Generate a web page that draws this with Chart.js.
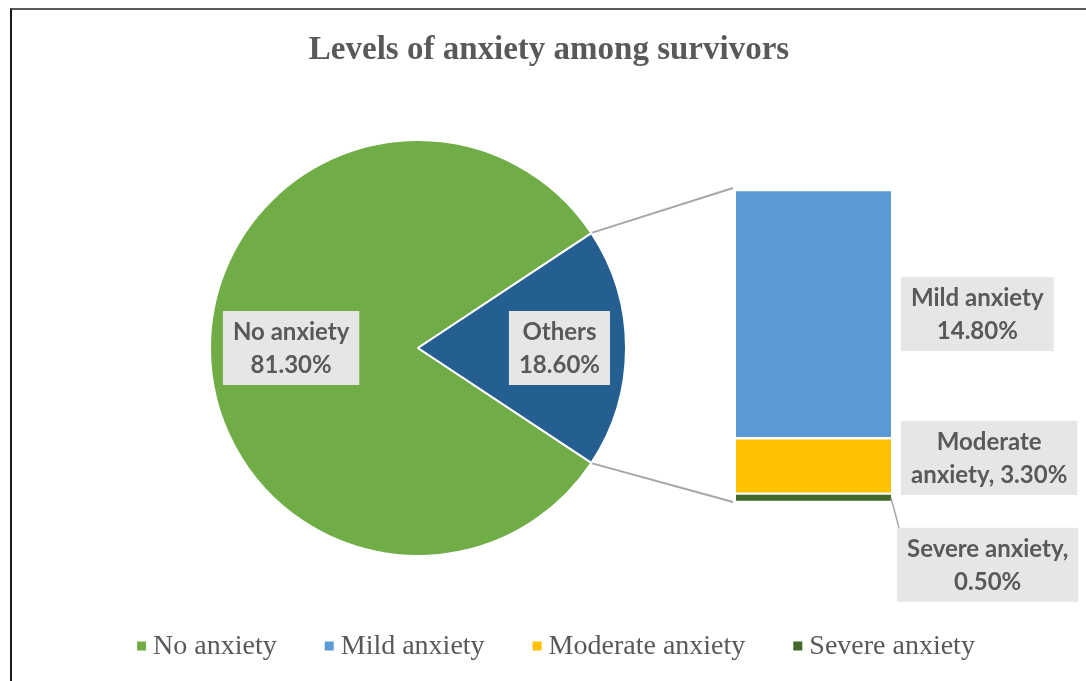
<!DOCTYPE html>
<html lang="en">
<head>
<meta charset="UTF-8">
<title>Levels of anxiety among survivors</title>
<style>
  * { margin: 0; padding: 0; box-sizing: border-box; }
  body { background: #fff; width: 1086px; height: 681px; overflow: hidden; position: relative; }
  .frame { position: absolute; left: 10px; top: 8px; width: 1100px; height: 700px; border-top: 2px solid #595959; border-left: 2px solid #1a1a1a; }
  canvas { position: absolute; left: 0; top: 0; }
</style>
<script src="https://cdn.jsdelivr.net/npm/chart.js"></script>
</head>
<body>
<div class="frame"></div>
<canvas id="pieChart" width="1086" height="681"></canvas>
<canvas id="barChart" width="1086" height="681"></canvas>
<script>
const chartTitle = 'Levels of anxiety among survivors';
const pieLabels = ['No anxiety', 'Others'];
const pieValues = [81.3, 18.6];
const barLabels = ['Mild anxiety', 'Moderate anxiety', 'Severe anxiety'];
const barValues = [14.8, 3.3, 0.5];
const legendLabels = ['No anxiety', 'Mild anxiety', 'Moderate anxiety', 'Severe anxiety'];

const pieColors = ['#70ad47', '#255e91'];
const barColors = ['#5b9bd5', '#ffc000', '#43682b'];
const legendColors = [pieColors[0], barColors[0], barColors[1], barColors[2]];

const textColor = '#595959';
const tagFill = '#e7e6e6';
const tagFont = 'bold 24px Lato';
const tagLine = 33;
const leaderColor = '#a6a6a6';

const pct = v => v.toFixed(2) + '%';

// break "name, value" into lines no wider than maxW
function wrapText(ctx, text, maxW) {
    const words = text.split(' ');
    const lines = [];
    let cur = '';
    words.forEach(w => {
        const test = cur ? cur + ' ' + w : w;
        if (cur && ctx.measureText(test).width > maxW) {
            lines.push(cur);
            cur = w;
        } else {
            cur = test;
        }
    });
    if (cur) lines.push(cur);
    return lines;
}

// grey label box; (x, cy) is either the centre or the left edge
function drawTag(ctx, lines, x, cy, alignLeft) {
    ctx.save();
    ctx.font = tagFont;
    const w = Math.max(...lines.map(l => ctx.measureText(l).width)) + 20;
    const h = lines.length * tagLine + 8;
    const left = alignLeft ? x : x - w / 2;
    const top = cy - h / 2;
    ctx.fillStyle = tagFill;
    ctx.fillRect(left, top, w, h);
    ctx.fillStyle = textColor;
    ctx.textAlign = 'center';
    ctx.textBaseline = 'middle';
    lines.forEach((l, i) => {
        ctx.fillText(l, left + w / 2, top + 4 + tagLine * (i + 0.5) + 1);
    });
    ctx.restore();
    return { left, top, w, h };
}

// Others slice is centred on the right-hand side
const pieTotal = pieValues.reduce((a, b) => a + b, 0);
const noDeg = pieValues[0] / pieTotal * 360;
const othersDeg = pieValues[1] / pieTotal * 360;
const pieRotation = 90 - noDeg - othersDeg / 2;

const pieTagFraction = [0.61, 0.68];

const pieTags = {
    id: 'pieTags',
    afterDatasetsDraw(chart) {
        const ctx = chart.ctx;
        chart.getDatasetMeta(0).data.forEach((arc, i) => {
            const p = arc.getProps(['x', 'y', 'startAngle', 'endAngle', 'outerRadius'], true);
            const mid = (p.startAngle + p.endAngle) / 2;
            const r = p.outerRadius * pieTagFraction[i];
            drawTag(ctx, [pieLabels[i], pct(pieValues[i])],
                p.x + Math.cos(mid) * r, p.y + Math.sin(mid) * r, false);
        });
    }
};

const pieChart = new Chart(document.getElementById('pieChart'), {
    type: 'pie',
    data: {
        labels: pieLabels,
        datasets: [{
            data: pieValues,
            backgroundColor: pieColors,
            borderColor: '#ffffff',
            borderWidth: 2
        }]
    },
    options: {
        responsive: false,
        animation: false,
        rotation: pieRotation,
        layout: { padding: { left: 209, right: 459, top: 139, bottom: 124 } },
        plugins: { legend: { display: false }, tooltip: { enabled: false } }
    },
    plugins: [pieTags]
});

// label nudges for the bar labels (mild, moderate, severe)
const barTagShift = [0, -8, 67];
const barTagGap = [10, 10, 6];

const barDecor = {
    id: 'barDecor',
    afterDatasetsDraw(chart) {
        const ctx = chart.ctx;
        const area = chart.chartArea;

        // lines joining the Others slice to the bar
        const arc = pieChart.getDatasetMeta(0).data[1].getProps(['x', 'y', 'startAngle', 'endAngle', 'outerRadius'], true);
        const R = arc.outerRadius + 1;
        ctx.save();
        ctx.strokeStyle = leaderColor;
        ctx.lineWidth = 2;
        ctx.beginPath();
        ctx.moveTo(arc.x + Math.cos(arc.startAngle) * R, arc.y + Math.sin(arc.startAngle) * R);
        ctx.lineTo(area.left - 3, area.top - 2);
        ctx.moveTo(arc.x + Math.cos(arc.endAngle) * R, arc.y + Math.sin(arc.endAngle) * R);
        ctx.lineTo(area.left - 3, area.bottom);
        ctx.stroke();
        ctx.restore();

        // value labels right of each segment
        ctx.save();
        ctx.font = tagFont;
        chart.data.datasets.forEach((ds, di) => {
            const i = barLabels.indexOf(ds.label);
            const bar = chart.getDatasetMeta(di).data[0];
            const cy = (bar.y + bar.base) / 2;
            const right = bar.x + bar.width / 2;
            const text = i === 0 ? null : ds.label + ', ' + pct(barValues[i]);
            const lines = text ? wrapText(ctx, text, 180) : [ds.label, pct(barValues[i])];
            const box = drawTag(ctx, lines, right + barTagGap[i], cy + barTagShift[i], true);
            if (barTagShift[i] > 30) {
                ctx.strokeStyle = leaderColor;
                ctx.lineWidth = 1.5;
                ctx.beginPath();
                ctx.moveTo(right, cy);
                ctx.lineTo(box.left + 2, box.top);
                ctx.stroke();
            }
        });
        ctx.restore();
    },
    afterDraw(chart) {
        const ctx = chart.ctx;
        ctx.save();
        // title
        ctx.fillStyle = textColor;
        ctx.font = 'bold 33px "Liberation Serif"';
        ctx.textAlign = 'center';
        ctx.textBaseline = 'middle';
        ctx.fillText(chartTitle, 549, 50);

        // legend row
        ctx.font = '28px "Liberation Serif"';
        ctx.textAlign = 'left';
        const gap = 48, sw = 9, sg = 7;
        const widths = legendLabels.map(l => ctx.measureText(l).width);
        const total = widths.reduce((a, b) => a + b + sw + sg, 0) + gap * (legendLabels.length - 1);
        let x = 556 - total / 2;
        const y = 646;
        legendLabels.forEach((l, i) => {
            ctx.fillStyle = legendColors[i];
            ctx.fillRect(x, y - sw / 2, sw, sw);
            ctx.fillStyle = textColor;
            ctx.fillText(l, x + sw + sg, y + 1);
            x += sw + sg + widths[i] + gap;
        });
        ctx.restore();
    }
};

// stack from the bottom: severe, moderate, mild
const barDatasets = barLabels.map((label, i) => ({
    label: label,
    data: [barValues[i]],
    backgroundColor: barColors[i],
    borderColor: '#ffffff',
    borderWidth: { top: 1.5, bottom: 1.5, left: 0, right: 0 },
    borderSkipped: false,
    barPercentage: 1,
    categoryPercentage: 1
})).reverse();

new Chart(document.getElementById('barChart'), {
    type: 'bar',
    data: { labels: ['Others'], datasets: barDatasets },
    options: {
        responsive: false,
        animation: false,
        layout: { padding: { left: 736, right: 195, top: 190, bottom: 179 } },
        scales: {
            x: { display: false, stacked: true },
            y: { display: false, stacked: true, min: 0, max: barValues.reduce((a, b) => a + b, 0) }
        },
        plugins: { legend: { display: false }, tooltip: { enabled: false } }
    },
    plugins: [barDecor]
});
</script>
</body>
</html>
